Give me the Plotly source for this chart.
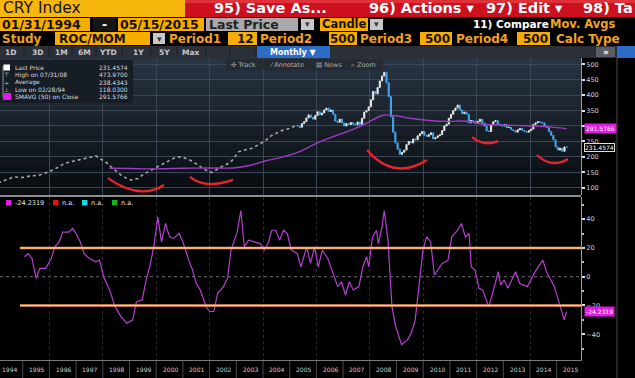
import plotly.graph_objects as go

W, H = 635, 378
def PX(x): return x / W
def PY(y): return 1 - y / H

# ---------------- data ----------------
years = list(range(1994, 2016))
year_labels = [str(y) for y in years]
grid_years = list(range(1994, 2016, 2))

price_ticks = [100, 150, 200, 250, 300, 350, 400, 450, 500]
price_tick_text = ["100", "150", "200", "250", "", "350", "400", "450", "500"]
roc_ticks = [-40, -20, 0, 20, 40]
roc_bands = [20, -20]

# early part of the price history (drawn as dotted line)
early_t = [1994.08, 1994.15, 1994.4, 1994.68, 1995.0, 1995.29, 1995.6, 1995.8, 1996.0, 1996.3, 1996.57, 1996.85,
           1997.17, 1997.45, 1997.74, 1997.93, 1998.1, 1998.3, 1998.5, 1998.68, 1998.9, 1999.06, 1999.32, 1999.5,
           1999.7, 2000.08, 2000.3, 2000.45, 2000.72, 2000.9, 2001.1, 2001.3, 2001.47, 2001.65, 2001.85, 2002.08,
           2002.25, 2002.45, 2002.65, 2002.83, 2003.1, 2003.35, 2003.59, 2003.85, 2004.12, 2004.3, 2004.49, 2004.7,
           2004.98, 2005.15, 2005.25]
early_v = [120, 118, 126, 135, 133, 138, 140, 146, 152, 165, 179, 185,
           192, 197, 203, 192, 184, 168, 155, 141, 130, 125, 130, 142,
           152, 168, 178, 186, 198, 200, 195, 188, 179, 168, 157, 149,
           158, 168, 176, 187, 217, 222, 228, 240, 255, 268, 276, 285,
           292, 300, 302]

# monthly closes (candles) Apr-2005 .. May-2015
cand_start_year, cand_start_month = 2005, 4
cand_close = [300, 296, 308, 314, 326, 336, 328, 322, 334,
              346, 336, 342, 352, 358, 347, 352, 338, 316, 312, 322, 310,
              300, 308, 305, 311, 306, 304, 313, 305, 325, 345, 350, 362,
              385, 412, 404, 425, 446, 462, 474, 440, 395, 330, 280, 245,
              225, 208, 215, 222, 240, 250, 245, 258, 255, 268, 275, 282,
              270, 266, 272, 278, 258, 262, 268, 272, 285, 300, 306, 325,
              338, 350, 358, 368, 352, 340, 345, 338, 310, 318, 315, 308,
              315, 322, 310, 300, 284, 282, 305, 314, 318, 306, 302, 300,
              305, 295, 296, 288, 285, 280, 288, 292, 286, 282, 280, 285,
              290, 305, 310, 314, 312, 310, 300, 295, 282, 270, 255, 232,
              222, 228, 218, 232, 231.4574]

sma_t = [1998.25, 1999.0, 2000.0, 2001.0, 2002.0, 2002.88, 2003.5, 2004.15, 2004.75, 2005.37, 2006.0, 2006.6,
         2007.37, 2007.9, 2008.5, 2009.0, 2009.5, 2010.2, 2011.0, 2011.5, 2012.4, 2013.4, 2014.0, 2014.6, 2015.37]
sma_v = [163, 162, 161, 163, 164, 164, 172, 188, 200, 217, 244, 265,
         289, 310, 335, 333, 325, 318, 315, 316, 305, 302, 300, 298, 291.5766]

roc_t = [1995.06, 1995.2, 1995.35, 1995.5, 1995.64, 1995.86, 1996.07, 1996.2, 1996.36, 1996.5, 1996.72, 1996.87,
         1997.0, 1997.16, 1997.3, 1997.5, 1997.74, 1997.88, 1998.03, 1998.25, 1998.46, 1998.68, 1998.9, 1999.12,
         1999.26, 1999.48, 1999.62, 1999.77, 1999.91, 2000.06, 2000.2, 2000.35, 2000.5, 2000.64, 2000.86, 2001.0,
         2001.22, 2001.36, 2001.5, 2001.65, 2001.87, 2002.0, 2002.16, 2002.3, 2002.52, 2002.67, 2002.8, 2003.03,
         2003.17, 2003.3, 2003.46, 2003.68, 2003.9, 2004.04, 2004.19, 2004.33, 2004.48, 2004.62, 2004.77, 2004.91,
         2005.06, 2005.28, 2005.42, 2005.64, 2005.78, 2005.93, 2006.07, 2006.22, 2006.43, 2006.58, 2006.8, 2006.94,
         2007.09, 2007.23, 2007.38, 2007.59, 2007.74, 2007.88, 2007.96, 2008.1, 2008.25, 2008.32, 2008.46, 2008.54,
         2008.68, 2008.83, 2008.97, 2009.19, 2009.41, 2009.55, 2009.7, 2009.84, 2009.99, 2010.13, 2010.28, 2010.42,
         2010.57, 2010.71, 2010.93, 2011.07, 2011.29, 2011.43, 2011.58, 2011.72, 2011.8, 2011.94, 2012.09, 2012.23,
         2012.45, 2012.6, 2012.81, 2012.9, 2013.03, 2013.17, 2013.46, 2013.61, 2013.9, 2014.19, 2014.48, 2014.62,
         2014.91, 2015.13, 2015.28, 2015.37]
roc_v = [13.9, 16, 12.7, -1.2, 5.8, 5.8, 12.7, 20.8, 24, 31, 31, 33.5,
         30, 24, 16, 12.7, 10.4, 11.5, 0, -9, -20.8, -27.7, -32.3, -30,
         -17.3, -16, -2.3, 8, 20.8, 41.6, 24.2, 37, 27.7, 26.6, 30, 24.2,
         11.5, 4.6, -4.6, -9.2, -20.8, -24.2, -24.2, -11.5, -6.9, -1.2, 18.5, 31,
         46, 20.8, 25.4, 24.2, 23, 18.5, 23, 32.3, 32.3, 25.4, 32.3, 30,
         18.5, 16.2, 6.9, 20.8, 9.2, 20.8, 6.9, 18.5, 12.7, 4.6, -6.9, -3.5,
         -12.7, -3.5, -9.2, -6.9, 6.9, 13.9, 6.9, 27.7, 32.3, 23, 34.6, 46,
         25.4, -20.8, -34.6, -47.3, -43.9, -39.3, -30, -6.9, 18.5, 27.7, 24.2, 1.2,
         5.8, 9.2, 11.5, 27.7, 32.3, 37, 27.7, 30, 6.9, 4.6, -8, -9.2,
         -20.8, -11.5, 3.5, -5.8, -2.3, -8, 3.5, -4.6, -6.9, 3.5, 11.5, 3.5,
         -6.9, -20.8, -30, -24.2319]

# hand-drawn red arcs (start, control, end) in (year, price)
red_arcs = [((1998.19, 131), (1999.39, 58), (2000.29, 109)),
            ((2001.27, 135), (2001.81, 94), (2002.88, 125)),
            ((2007.90, 222), (2008.87, 122), (2010.14, 190)),
            ((2011.83, 264), (2012.31, 232), (2012.80, 251)),
            ((2014.26, 206), (2014.80, 161), (2015.42, 193))]

legend_rows = [("Last Price", "231.4574"), ("High on 07/31/08", "473.9700"), ("Average", "238.4343"),
               ("Low on 02/28/94", "118.0300"), ("SMAVG (50) on Close", "291.5766")]
last_price, sma_last, roc_last = 231.4574, 291.5766, -24.2319

# ---------------- build ----------------
cand_x, cand_open = [], []
prev = early_v[-1]
for i, c in enumerate(cand_close):
    m = cand_start_month - 1 + i
    cand_x.append(cand_start_year + m // 12 + ((m % 12) + 0.5) / 12)
    cand_open.append(prev)
    prev = c
cand_high = [max(o, c) for o, c in zip(cand_open, cand_close)]
cand_low = [min(o, c) for o, c in zip(cand_open, cand_close)]

XR = [1994.15, 2015.91]
XD = [0, 581 / W]
FONT = "DejaVu Sans"

fig = go.Figure()
fig.add_trace(go.Scatter(x=early_t, y=early_v, mode="lines", line=dict(color="#a8a8a8", width=1.6, dash="dot"),
                         xaxis="x", yaxis="y", showlegend=False))
fig.add_trace(go.Candlestick(x=cand_x, open=cand_open, high=cand_high, low=cand_low, close=cand_close,
                             increasing=dict(line=dict(color="#e8e8e8", width=1), fillcolor="#e8e8e8"),
                             decreasing=dict(line=dict(color="#46a6ea", width=1), fillcolor="#46a6ea"),
                             whiskerwidth=0, xaxis="x", yaxis="y", showlegend=False))
fig.add_trace(go.Scatter(x=sma_t, y=sma_v, mode="lines", line=dict(color="#9a3cc0", width=1.4, shape="spline"),
                         xaxis="x", yaxis="y", showlegend=False))
fig.add_trace(go.Scatter(x=roc_t, y=roc_v, mode="lines", line=dict(color="#b53fd0", width=1.2),
                         xaxis="x2", yaxis="y2", showlegend=False))

shapes, annos = [], []

def rect(x0, y0, x1, y1, fill, layer="above", lw=0, lc=None):
    shapes.append(dict(type="rect", xref="paper", yref="paper", x0=PX(x0), x1=PX(x1), y0=PY(y1), y1=PY(y0),
                       fillcolor=fill, line=dict(width=lw, color=lc), layer=layer))

def hline(x0, x1, y, color, width=1, layer="above"):
    shapes.append(dict(type="line", xref="paper", yref="paper", x0=PX(x0), x1=PX(x1), y0=PY(y), y1=PY(y),
                       line=dict(color=color, width=width), layer=layer))

def vline(x, y0, y1, color, width=1, layer="above"):
    shapes.append(dict(type="line", xref="paper", yref="paper", x0=PX(x), x1=PX(x), y0=PY(y0), y1=PY(y1),
                       line=dict(color=color, width=width), layer=layer))

def text(x, y, s, size, color, anchor="left", bold=False, **kw):
    annos.append(dict(xref="paper", yref="paper", x=PX(x), y=PY(y), text=("<b>%s</b>" % s) if bold else s,
                      showarrow=False, xanchor=anchor, yanchor="middle",
                      font=dict(size=size, color=color, family=FONT), borderpad=0, **kw))

# upper panel gradient background
n = 14
top_c, bot_c = (40, 52, 66), (9, 12, 17)
for i in range(n):
    f = i / (n - 1)
    c = tuple(int(top_c[k] + (bot_c[k] - top_c[k]) * f) for k in range(3))
    y0 = 58 + (195 - 58) * i / n
    y1 = 58 + (195 - 58) * (i + 1) / n
    rect(0, y0, 581, y1 + 0.5, "rgb(%d,%d,%d)" % c, layer="below")

# panel separator and right border
hline(0, 581, 196, "#8c8c8c", 2)
vline(617, 58, 378, "#4a4a4a", 1)

# red arcs
for (p0, c, p1) in red_arcs:
    shapes.append(dict(type="path", xref="x", yref="y",
                       path="M %f,%f Q %f,%f %f,%f" % (p0[0], p0[1], c[0], c[1], p1[0], p1[1]),
                       line=dict(color="#e8242c", width=2.4), layer="above"))

# ROC bands and zero line
for b in roc_bands:
    shapes.append(dict(type="line", xref="x2", yref="y2", x0=1994.9, x1=XR[1], y0=b, y1=b,
                       line=dict(color="#ee9a5e", width=2.4), layer="above"))
    shapes.append(dict(type="line", xref="x2", yref="y2", x0=1994.9, x1=XR[1], y0=b, y1=b,
                       line=dict(color="#ffd6b0", width=0.8), layer="above"))
shapes.append(dict(type="line", xref="x2", yref="y2", x0=XR[0], x1=XR[1], y0=0, y1=0,
                   line=dict(color="#6a6a6a", width=1, dash="dot"), layer="below"))

# x-axis strip separators and year labels
for y, lab in zip(years, year_labels):
    shapes.append(dict(type="line", xref="x2", yref="paper", x0=y, x1=y, y0=PY(378), y1=PY(361),
                       line=dict(color="#4a4a4a", width=1), layer="above"))
    annos.append(dict(xref="x2", yref="paper", x=y + 0.2, y=PY(369.5), text=lab, showarrow=False,
                      xanchor="left", yanchor="middle", borderpad=0,
                      font=dict(size=6, color="#d0d0d0", family=FONT)))

# ---------------- header ----------------
ORG, DARK, ORGTXT = "#f5ad00", "#1a1000", "#f2a21c"
rect(0, 0, 185, 17, "#f6b60c")
rect(185, 0, 635, 17, "#cc1020")
rect(185, 0, 635, 3, "#e0303a")
text(2, 8.5, "CRY Index", 15.5, "#151515")
text(213, 8.5, "95) Save As...", 14.5, "white", bold=True)
text(368, 8.5, "96) Actions ▾", 14.5, "white", bold=True)
text(485, 8.5, "97) Edit ▾", 14.5, "white", bold=True)
text(582, 8.5, "98) Ta", 14.5, "white", bold=True)

rect(0, 17, 635, 58, "black")
rect(0, 18, 90, 31, ORG); text(1, 24.5, "01/31/1994", 12.5, DARK, bold=True)
rect(93, 18, 116, 31, "#151515"); text(104.5, 24.5, "-", 12.5, "white", anchor="center", bold=True)
rect(118, 18, 204, 31, ORG); text(119, 24.5, "05/15/2015", 12.5, DARK, bold=True)
rect(206, 18, 298, 31, "#a9a9a9"); text(208, 24.5, "Last Price", 12.5, "#222", bold=True)
rect(301, 19, 314, 30, "#c8c8c8"); text(307.5, 24.5, "▾", 9, "#333", anchor="center")
rect(320, 18, 368, 31, ORG); text(321, 24.5, "Candle", 11.5, DARK, bold=True)
rect(370, 19, 383, 30, "#c8c8c8"); text(376.5, 24.5, "▾", 9, "#333", anchor="center")
text(472, 24.5, "11) Compare", 10.5, "white", bold=True)
text(549, 24.5, "Mov. Avgs", 11.5, ORGTXT, bold=True)

text(1, 38.5, "Study", 12, ORGTXT, bold=True)
rect(55, 32, 150, 45, ORG); text(58, 38.5, "ROC/MOM", 12, DARK, bold=True)
rect(153, 33, 165, 44, "#c8c8c8"); text(159, 38.5, "▾", 9, "#333", anchor="center")
text(168, 38.5, "Period1", 12, ORGTXT, bold=True)
rect(228, 32, 257, 45, ORG); text(255, 38.5, "12", 12, DARK, anchor="right", bold=True)
text(259, 38.5, "Period2", 12, ORGTXT, bold=True)
rect(329, 32, 357, 45, ORG); text(356, 38.5, "500", 12, DARK, anchor="right", bold=True)
text(359, 38.5, "Period3", 12, ORGTXT, bold=True)
rect(420, 32, 452, 45, ORG); text(451, 38.5, "500", 12, DARK, anchor="right", bold=True)
text(455, 38.5, "Period4", 12, ORGTXT, bold=True)
rect(517, 32, 550, 45, ORG); text(549, 38.5, "500", 12, DARK, anchor="right", bold=True)
text(555, 38.5, "Calc Type", 12, ORGTXT, bold=True)

# toolbar
rect(0, 46, 635, 58, "#2b3038")
btns = [("1D", 10), ("3D", 37), ("1M", 61), ("6M", 84), ("YTD", 108), ("1Y", 138), ("5Y", 164), ("Max", 191)]
for b, cx in btns:
    text(cx, 52, b, 7.5, "#c4c8cc", anchor="center", bold=True)
for sx in [24, 49, 72, 96, 122, 151, 177, 206, 230, 256]:
    vline(sx, 47, 57, "#1c2026", 1)
rect(257, 46, 330, 58, "#2c6cc6")
text(293, 52, "Monthly ▼", 8, "white", anchor="center", bold=True)
rect(596, 47, 615, 57, "#5a5f66"); text(605.5, 52, "»", 9, "white", anchor="center", bold=True)
rect(617, 46, 635, 58, "#2c6cc6")

# mini toolbar (Track / Annotate / News / Zoom)
rect(226, 59, 383, 70, "#262b31")
for s, x in [("✣ Track", 230), ("⁄ Annotate", 268), ("▤ News", 315), ("⌕ Zoom", 350)]:
    text(x, 64.5, s, 6.5, "#a8acb0")

# upper legend box
rect(0, 60, 133, 103, "rgba(22,28,36,0.95)")
vline(3, 66, 97, "#8a8a8a", 1)
row_y = [67.5, 75, 82, 89, 96.5]
rect(3.5, 64.5, 10, 70.5, "white")
text(6.5, row_y[1], "⊤", 6, "#cfcfcf", anchor="center")
text(6.5, row_y[2], "÷", 6, "#cfcfcf", anchor="center")
text(6.5, row_y[3], "⊥", 6, "#cfcfcf", anchor="center")
rect(3, 93, 11, 100, "#e21be2")
for (lab, val), yy in zip(legend_rows, row_y):
    text(14, yy, lab, 6, "#dcdcdc")
    text(129, yy, val, 6, "#dcdcdc", anchor="right")

# lower legend
for (col, lab), x0 in zip([("#e21be2", "-24.2319"), ("#e0141c", "n.a."), ("#19d6e8", "n.a."), ("#1bb21b", "n.a.")],
                          [6, 53, 82, 112]):
    rect(x0, 200, x0 + 5.5, 205.5, col)
    text(x0 + 8, 202.8, lab, 6.5, "#e6e6e6")

# value boxes on right axis
annos.append(dict(xref="paper", yref="y", x=PX(584), y=sma_last, text="291.5766", showarrow=False,
                  xanchor="left", yanchor="middle", bgcolor="#e21be2", borderpad=1,
                  font=dict(size=6, color="white", family=FONT)))
annos.append(dict(xref="paper", yref="y", x=PX(584), y=last_price, text="231.4574", showarrow=False,
                  xanchor="left", yanchor="middle", bgcolor="black", bordercolor="#e0e0e0", borderwidth=1,
                  borderpad=0, font=dict(size=6, color="white", family=FONT)))
annos.append(dict(xref="paper", yref="y2", x=PX(584), y=roc_last, text="-24.2319", showarrow=False,
                  xanchor="left", yanchor="middle", bgcolor="#e21be2", borderpad=1,
                  font=dict(size=6, color="white", family=FONT)))

fig.update_layout(
    width=W, height=H, margin=dict(l=0, r=0, t=0, b=0),
    paper_bgcolor="black", plot_bgcolor="black",
    font=dict(family=FONT, color="#d0d0d0"),
    showlegend=False, hovermode=False,
    xaxis=dict(domain=XD, range=XR, anchor="y", showticklabels=False, tickmode="array", tickvals=grid_years,
               ticks="", showgrid=True, gridcolor="#3a4654", gridwidth=1, zeroline=False, showline=False,
               rangeslider=dict(visible=False), automargin=False),
    yaxis=dict(domain=[1 - 195 / H, 1 - 58 / H], range=[76.3, 520.4], anchor="x", side="right",
               tickmode="array", tickvals=price_ticks, ticktext=price_tick_text, ticks="outside", ticklen=3,
               tickwidth=2, tickcolor="#e0e0e0",
               tickfont=dict(size=6.5, color="#d4d4d4"), showgrid=True, gridcolor="#3a4654", gridwidth=1,
               zeroline=False, showline=True, linecolor="#9a9a9a", automargin=False),
    xaxis2=dict(domain=XD, range=XR, anchor="y2", tickmode="array", tickvals=grid_years, showticklabels=False,
                ticks="", showgrid=True, gridcolor="#2c2c2c", griddash="dot",
                zeroline=False, showline=True, linecolor="#7a7a7a", automargin=False),
    yaxis2=dict(domain=[1 - 360 / H, 1 - 197 / H], range=[-57.9, 55.4], anchor="x2", side="right",
                tickmode="array", tickvals=roc_ticks, ticks="outside", ticklen=3, tickwidth=2, tickcolor="#e0e0e0",
                minor=dict(dtick=10, ticks="outside", ticklen=2, tickcolor="#bbbbbb"),
                tickfont=dict(size=6.5, color="#d4d4d4"), showgrid=False, zeroline=False,
                showline=True, linecolor="#9a9a9a", automargin=False),
    shapes=shapes, annotations=annos,
)

fig.write_html("out.html")
